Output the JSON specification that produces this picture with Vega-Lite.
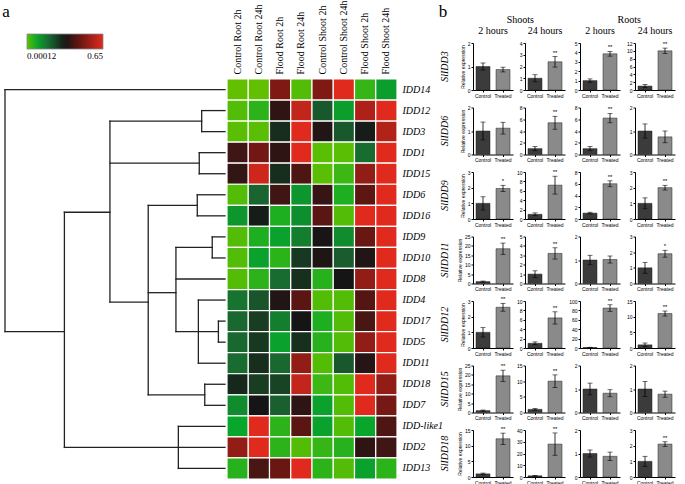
{
  "$schema": "https://vega.github.io/schema/vega-lite/v6.json",
  "padding": 0,
  "background": "white",
  "config": {"view": {"stroke": null}, "font": "Liberation Sans"},
  "datasets": {
    "tree": [
      {"h1":1,"h2":0,"r1":0.5,"r2":0.5},
      {"h1":1,"h2":1,"r1":0.5,"r2":12},
      {"h1":1,"h2":0.73,"r1":12,"r2":12},
      {"h1":0.73,"h2":0.73,"r1":6.33,"r2":17.5},
      {"h1":0.73,"h2":0.523,"r1":6.33,"r2":6.33},
      {"h1":0.523,"h2":0.523,"r1":2,"r2":10.6},
      {"h1":0.523,"h2":0.106,"r1":2,"r2":2},
      {"h1":0.106,"h2":0.106,"r1":1.5,"r2":2.5},
      {"h1":0.106,"h2":0,"r1":1.5,"r2":1.5},
      {"h1":0.106,"h2":0,"r1":2.5,"r2":2.5},
      {"h1":0.523,"h2":0.117,"r1":4,"r2":4},
      {"h1":0.117,"h2":0.117,"r1":3.5,"r2":4.5},
      {"h1":0.117,"h2":0,"r1":3.5,"r2":3.5},
      {"h1":0.117,"h2":0,"r1":4.5,"r2":4.5},
      {"h1":0.523,"h2":0.349,"r1":10.6,"r2":10.6},
      {"h1":0.349,"h2":0.349,"r1":6,"r2":15},
      {"h1":0.349,"h2":0.126,"r1":6,"r2":6},
      {"h1":0.126,"h2":0.126,"r1":5.5,"r2":6.5},
      {"h1":0.126,"h2":0,"r1":5.5,"r2":5.5},
      {"h1":0.126,"h2":0,"r1":6.5,"r2":6.5},
      {"h1":0.349,"h2":0.223,"r1":10.15,"r2":10.15},
      {"h1":0.223,"h2":0.223,"r1":8,"r2":12},
      {"h1":0.223,"h2":0.058,"r1":8,"r2":8},
      {"h1":0.058,"h2":0.058,"r1":7.5,"r2":8.5},
      {"h1":0.058,"h2":0,"r1":7.5,"r2":7.5},
      {"h1":0.058,"h2":0,"r1":8.5,"r2":8.5},
      {"h1":0.223,"h2":0,"r1":9.5,"r2":9.5},
      {"h1":0.223,"h2":0.03,"r1":12,"r2":12},
      {"h1":0.03,"h2":0.03,"r1":11.5,"r2":12.5},
      {"h1":0.03,"h2":0,"r1":11.5,"r2":11.5},
      {"h1":0.03,"h2":0,"r1":12.5,"r2":12.5},
      {"h1":0.121,"h2":0.121,"r1":10.5,"r2":13.5},
      {"h1":0.121,"h2":0,"r1":10.5,"r2":10.5},
      {"h1":0.121,"h2":0,"r1":13.5,"r2":13.5},
      {"h1":0.349,"h2":0.092,"r1":15,"r2":15},
      {"h1":0.092,"h2":0.092,"r1":14.5,"r2":15.5},
      {"h1":0.092,"h2":0,"r1":14.5,"r2":14.5},
      {"h1":0.092,"h2":0,"r1":15.5,"r2":15.5},
      {"h1":0.73,"h2":0,"r1":17.5,"r2":17.5},
      {"h1":0.212,"h2":0.212,"r1":16.5,"r2":18.5},
      {"h1":0.212,"h2":0,"r1":16.5,"r2":16.5},
      {"h1":0.212,"h2":0,"r1":18.5,"r2":18.5}
    ],
    "heat": [
      {"gene":"IDD14","cond":"Control Root 2h","v":0},{"gene":"IDD14","cond":"Control Root 24h","v":0},{"gene":"IDD14","cond":"Flood Root 2h","v":0.488},{"gene":"IDD14","cond":"Flood Root 24h","v":0.013},{"gene":"IDD14","cond":"Control Shoot 2h","v":0.488},{"gene":"IDD14","cond":"Control Shoot 24h","v":0.65},{"gene":"IDD14","cond":"Flood Shoot 2h","v":0.039},{"gene":"IDD14","cond":"Flood Shoot 24h","v":0.098},
      {"gene":"IDD12","cond":"Control Root 2h","v":0.013},{"gene":"IDD12","cond":"Control Root 24h","v":0.046},{"gene":"IDD12","cond":"Flood Root 2h","v":0.364},{"gene":"IDD12","cond":"Flood Root 24h","v":0.598},{"gene":"IDD12","cond":"Control Shoot 2h","v":0.215},{"gene":"IDD12","cond":"Control Shoot 24h","v":0.098},{"gene":"IDD12","cond":"Flood Shoot 2h","v":0.566},{"gene":"IDD12","cond":"Flood Shoot 24h","v":0.65},
      {"gene":"IDD3","cond":"Control Root 2h","v":0.007},{"gene":"IDD3","cond":"Control Root 24h","v":0.007},{"gene":"IDD3","cond":"Flood Root 2h","v":0.286},{"gene":"IDD3","cond":"Flood Root 24h","v":0.65},{"gene":"IDD3","cond":"Control Shoot 2h","v":0.345},{"gene":"IDD3","cond":"Control Shoot 24h","v":0.215},{"gene":"IDD3","cond":"Flood Shoot 2h","v":0.312},{"gene":"IDD3","cond":"Flood Shoot 24h","v":0.572},
      {"gene":"IDD1","cond":"Control Root 2h","v":0.39},{"gene":"IDD1","cond":"Control Root 24h","v":0.468},{"gene":"IDD1","cond":"Flood Root 2h","v":0.364},{"gene":"IDD1","cond":"Flood Root 24h","v":0.65},{"gene":"IDD1","cond":"Control Shoot 2h","v":0.007},{"gene":"IDD1","cond":"Control Shoot 24h","v":0.007},{"gene":"IDD1","cond":"Flood Shoot 2h","v":0.182},{"gene":"IDD1","cond":"Flood Shoot 24h","v":0.65},
      {"gene":"IDD15","cond":"Control Root 2h","v":0.371},{"gene":"IDD15","cond":"Control Root 24h","v":0.618},{"gene":"IDD15","cond":"Flood Root 2h","v":0.286},{"gene":"IDD15","cond":"Flood Root 24h","v":0.41},{"gene":"IDD15","cond":"Control Shoot 2h","v":0.007},{"gene":"IDD15","cond":"Control Shoot 24h","v":0.033},{"gene":"IDD15","cond":"Flood Shoot 2h","v":0.52},{"gene":"IDD15","cond":"Flood Shoot 24h","v":0.65},
      {"gene":"IDD6","cond":"Control Root 2h","v":0.013},{"gene":"IDD6","cond":"Control Root 24h","v":0.195},{"gene":"IDD6","cond":"Flood Root 2h","v":0.39},{"gene":"IDD6","cond":"Flood Root 24h","v":0.111},{"gene":"IDD6","cond":"Control Shoot 2h","v":0.377},{"gene":"IDD6","cond":"Control Shoot 24h","v":0.059},{"gene":"IDD6","cond":"Flood Shoot 2h","v":0.436},{"gene":"IDD6","cond":"Flood Shoot 24h","v":0.65},
      {"gene":"IDD16","cond":"Control Root 2h","v":0.111},{"gene":"IDD16","cond":"Control Root 24h","v":0.312},{"gene":"IDD16","cond":"Flood Root 2h","v":0.059},{"gene":"IDD16","cond":"Flood Root 24h","v":0.124},{"gene":"IDD16","cond":"Control Shoot 2h","v":0.429},{"gene":"IDD16","cond":"Control Shoot 24h","v":0.013},{"gene":"IDD16","cond":"Flood Shoot 2h","v":0.65},{"gene":"IDD16","cond":"Flood Shoot 24h","v":0.65},
      {"gene":"IDD9","cond":"Control Root 2h","v":0.013},{"gene":"IDD9","cond":"Control Root 24h","v":0.059},{"gene":"IDD9","cond":"Flood Root 2h","v":0.091},{"gene":"IDD9","cond":"Flood Root 24h","v":0.15},{"gene":"IDD9","cond":"Control Shoot 2h","v":0.332},{"gene":"IDD9","cond":"Control Shoot 24h","v":0.13},{"gene":"IDD9","cond":"Flood Shoot 2h","v":0.455},{"gene":"IDD9","cond":"Flood Shoot 24h","v":0.65},
      {"gene":"IDD10","cond":"Control Root 2h","v":0.013},{"gene":"IDD10","cond":"Control Root 24h","v":0.091},{"gene":"IDD10","cond":"Flood Root 2h","v":0.046},{"gene":"IDD10","cond":"Flood Root 24h","v":0.267},{"gene":"IDD10","cond":"Control Shoot 2h","v":0.338},{"gene":"IDD10","cond":"Control Shoot 24h","v":0.208},{"gene":"IDD10","cond":"Flood Shoot 2h","v":0.345},{"gene":"IDD10","cond":"Flood Shoot 24h","v":0.65},
      {"gene":"IDD8","cond":"Control Root 2h","v":0.013},{"gene":"IDD8","cond":"Control Root 24h","v":0.046},{"gene":"IDD8","cond":"Flood Root 2h","v":0.182},{"gene":"IDD8","cond":"Flood Root 24h","v":0.28},{"gene":"IDD8","cond":"Control Shoot 2h","v":0.052},{"gene":"IDD8","cond":"Control Shoot 24h","v":0.325},{"gene":"IDD8","cond":"Flood Shoot 2h","v":0.52},{"gene":"IDD8","cond":"Flood Shoot 24h","v":0.65},
      {"gene":"IDD4","cond":"Control Root 2h","v":0.169},{"gene":"IDD4","cond":"Control Root 24h","v":0.221},{"gene":"IDD4","cond":"Flood Root 2h","v":0.345},{"gene":"IDD4","cond":"Flood Root 24h","v":0.429},{"gene":"IDD4","cond":"Control Shoot 2h","v":0.013},{"gene":"IDD4","cond":"Control Shoot 24h","v":0.013},{"gene":"IDD4","cond":"Flood Shoot 2h","v":0.423},{"gene":"IDD4","cond":"Flood Shoot 24h","v":0.65},
      {"gene":"IDD17","cond":"Control Root 2h","v":0.189},{"gene":"IDD17","cond":"Control Root 24h","v":0.26},{"gene":"IDD17","cond":"Flood Root 2h","v":0.15},{"gene":"IDD17","cond":"Flood Root 24h","v":0.325},{"gene":"IDD17","cond":"Control Shoot 2h","v":0.059},{"gene":"IDD17","cond":"Control Shoot 24h","v":0.013},{"gene":"IDD17","cond":"Flood Shoot 2h","v":0.403},{"gene":"IDD17","cond":"Flood Shoot 24h","v":0.65},
      {"gene":"IDD5","cond":"Control Root 2h","v":0.189},{"gene":"IDD5","cond":"Control Root 24h","v":0.267},{"gene":"IDD5","cond":"Flood Root 2h","v":0.091},{"gene":"IDD5","cond":"Flood Root 24h","v":0.28},{"gene":"IDD5","cond":"Control Shoot 2h","v":0.052},{"gene":"IDD5","cond":"Control Shoot 24h","v":0.013},{"gene":"IDD5","cond":"Flood Shoot 2h","v":0.52},{"gene":"IDD5","cond":"Flood Shoot 24h","v":0.65},
      {"gene":"IDD11","cond":"Control Root 2h","v":0.182},{"gene":"IDD11","cond":"Control Root 24h","v":0.286},{"gene":"IDD11","cond":"Flood Root 2h","v":0.189},{"gene":"IDD11","cond":"Flood Root 24h","v":0.52},{"gene":"IDD11","cond":"Control Shoot 2h","v":0.013},{"gene":"IDD11","cond":"Control Shoot 24h","v":0.215},{"gene":"IDD11","cond":"Flood Shoot 2h","v":0.351},{"gene":"IDD11","cond":"Flood Shoot 24h","v":0.65},
      {"gene":"IDD18","cond":"Control Root 2h","v":0.293},{"gene":"IDD18","cond":"Control Root 24h","v":0.26},{"gene":"IDD18","cond":"Flood Root 2h","v":0.247},{"gene":"IDD18","cond":"Flood Root 24h","v":0.598},{"gene":"IDD18","cond":"Control Shoot 2h","v":0.033},{"gene":"IDD18","cond":"Control Shoot 24h","v":0.013},{"gene":"IDD18","cond":"Flood Shoot 2h","v":0.65},{"gene":"IDD18","cond":"Flood Shoot 24h","v":0.52},
      {"gene":"IDD7","cond":"Control Root 2h","v":0.13},{"gene":"IDD7","cond":"Control Root 24h","v":0.325},{"gene":"IDD7","cond":"Flood Root 2h","v":0.202},{"gene":"IDD7","cond":"Flood Root 24h","v":0.364},{"gene":"IDD7","cond":"Control Shoot 2h","v":0.091},{"gene":"IDD7","cond":"Control Shoot 24h","v":0.013},{"gene":"IDD7","cond":"Flood Shoot 2h","v":0.65},{"gene":"IDD7","cond":"Flood Shoot 24h","v":0.475},
      {"gene":"IDD-like1","cond":"Control Root 2h","v":0.085},{"gene":"IDD-like1","cond":"Control Root 24h","v":0.65},{"gene":"IDD-like1","cond":"Flood Root 2h","v":0.046},{"gene":"IDD-like1","cond":"Flood Root 24h","v":0.429},{"gene":"IDD-like1","cond":"Control Shoot 2h","v":0.091},{"gene":"IDD-like1","cond":"Control Shoot 24h","v":0.013},{"gene":"IDD-like1","cond":"Flood Shoot 2h","v":0.085},{"gene":"IDD-like1","cond":"Flood Shoot 24h","v":0.41},
      {"gene":"IDD2","cond":"Control Root 2h","v":0.52},{"gene":"IDD2","cond":"Control Root 24h","v":0.65},{"gene":"IDD2","cond":"Flood Root 2h","v":0.046},{"gene":"IDD2","cond":"Flood Root 24h","v":0.013},{"gene":"IDD2","cond":"Control Shoot 2h","v":0.039},{"gene":"IDD2","cond":"Control Shoot 24h","v":0.052},{"gene":"IDD2","cond":"Flood Shoot 2h","v":0.364},{"gene":"IDD2","cond":"Flood Shoot 24h","v":0.39},
      {"gene":"IDD13","cond":"Control Root 2h","v":0.052},{"gene":"IDD13","cond":"Control Root 24h","v":0.403},{"gene":"IDD13","cond":"Flood Root 2h","v":0.455},{"gene":"IDD13","cond":"Flood Root 24h","v":0.65},{"gene":"IDD13","cond":"Control Shoot 2h","v":0.046},{"gene":"IDD13","cond":"Control Shoot 24h","v":0.013},{"gene":"IDD13","cond":"Flood Shoot 2h","v":0.091},{"gene":"IDD13","cond":"Flood Shoot 24h","v":0.046}
    ],
    "bars": [
      {"gene":"SlIDD3","cond":"S2","grp":"Control","m":1,"lo":0.85,"hi":1.15,"sig":"","axmax":2},
      {"gene":"SlIDD3","cond":"S2","grp":"Treated","m":0.87,"lo":0.77,"hi":0.97,"sig":"","axmax":2},
      {"gene":"SlIDD3","cond":"S24","grp":"Control","m":1,"lo":0.7,"hi":1.3,"sig":"","axmax":4},
      {"gene":"SlIDD3","cond":"S24","grp":"Treated","m":2.4,"lo":1.95,"hi":2.85,"sig":"**","axmax":4},
      {"gene":"SlIDD3","cond":"R2","grp":"Control","m":1,"lo":0.82,"hi":1.18,"sig":"","axmax":5},
      {"gene":"SlIDD3","cond":"R2","grp":"Treated","m":3.85,"lo":3.6,"hi":4.1,"sig":"**","axmax":5},
      {"gene":"SlIDD3","cond":"R24","grp":"Control","m":1,"lo":0.6,"hi":1.4,"sig":"","axmax":12},
      {"gene":"SlIDD3","cond":"R24","grp":"Treated","m":10,"lo":9.3,"hi":10.7,"sig":"**","axmax":12},
      {"gene":"SlIDD6","cond":"S2","grp":"Control","m":1,"lo":0.62,"hi":1.38,"sig":"","axmax":2},
      {"gene":"SlIDD6","cond":"S2","grp":"Treated","m":1.12,"lo":0.87,"hi":1.37,"sig":"","axmax":2},
      {"gene":"SlIDD6","cond":"S24","grp":"Control","m":1,"lo":0.65,"hi":1.35,"sig":"","axmax":8},
      {"gene":"SlIDD6","cond":"S24","grp":"Treated","m":5.4,"lo":4.3,"hi":6.5,"sig":"**","axmax":8},
      {"gene":"SlIDD6","cond":"R2","grp":"Control","m":1,"lo":0.65,"hi":1.35,"sig":"","axmax":8},
      {"gene":"SlIDD6","cond":"R2","grp":"Treated","m":6.2,"lo":5.4,"hi":7,"sig":"**","axmax":8},
      {"gene":"SlIDD6","cond":"R24","grp":"Control","m":1,"lo":0.7,"hi":1.3,"sig":"","axmax":2},
      {"gene":"SlIDD6","cond":"R24","grp":"Treated","m":0.75,"lo":0.5,"hi":1,"sig":"","axmax":2},
      {"gene":"SlIDD9","cond":"S2","grp":"Control","m":1,"lo":0.58,"hi":1.42,"sig":"","axmax":3},
      {"gene":"SlIDD9","cond":"S2","grp":"Treated","m":1.95,"lo":1.75,"hi":2.15,"sig":"*","axmax":3},
      {"gene":"SlIDD9","cond":"S24","grp":"Control","m":1,"lo":0.7,"hi":1.3,"sig":"","axmax":10},
      {"gene":"SlIDD9","cond":"S24","grp":"Treated","m":7.2,"lo":5.3,"hi":9.1,"sig":"**","axmax":10},
      {"gene":"SlIDD9","cond":"R2","grp":"Control","m":1,"lo":0.85,"hi":1.15,"sig":"","axmax":8},
      {"gene":"SlIDD9","cond":"R2","grp":"Treated","m":6,"lo":5.5,"hi":6.5,"sig":"**","axmax":8},
      {"gene":"SlIDD9","cond":"R24","grp":"Control","m":1,"lo":0.65,"hi":1.35,"sig":"","axmax":3},
      {"gene":"SlIDD9","cond":"R24","grp":"Treated","m":2,"lo":1.85,"hi":2.15,"sig":"**","axmax":3},
      {"gene":"SlIDD11","cond":"S2","grp":"Control","m":1,"lo":0.7,"hi":1.3,"sig":"","axmax":25},
      {"gene":"SlIDD11","cond":"S2","grp":"Treated","m":18.5,"lo":15.5,"hi":21.5,"sig":"**","axmax":25},
      {"gene":"SlIDD11","cond":"S24","grp":"Control","m":1,"lo":0.65,"hi":1.35,"sig":"","axmax":5},
      {"gene":"SlIDD11","cond":"S24","grp":"Treated","m":3.2,"lo":2.6,"hi":3.8,"sig":"**","axmax":5},
      {"gene":"SlIDD11","cond":"R2","grp":"Control","m":1,"lo":0.8,"hi":1.2,"sig":"","axmax":2},
      {"gene":"SlIDD11","cond":"R2","grp":"Treated","m":1.02,"lo":0.87,"hi":1.17,"sig":"","axmax":2},
      {"gene":"SlIDD11","cond":"R24","grp":"Control","m":1,"lo":0.65,"hi":1.35,"sig":"","axmax":3},
      {"gene":"SlIDD11","cond":"R24","grp":"Treated","m":1.9,"lo":1.68,"hi":2.12,"sig":"*","axmax":3},
      {"gene":"SlIDD12","cond":"S2","grp":"Control","m":1,"lo":0.7,"hi":1.3,"sig":"","axmax":3},
      {"gene":"SlIDD12","cond":"S2","grp":"Treated","m":2.6,"lo":2.35,"hi":2.85,"sig":"**","axmax":3},
      {"gene":"SlIDD12","cond":"S24","grp":"Control","m":1,"lo":0.7,"hi":1.3,"sig":"","axmax":10},
      {"gene":"SlIDD12","cond":"S24","grp":"Treated","m":6.4,"lo":5.1,"hi":7.7,"sig":"**","axmax":10},
      {"gene":"SlIDD12","cond":"R2","grp":"Control","m":1,"lo":0.5,"hi":1.5,"sig":"","axmax":100},
      {"gene":"SlIDD12","cond":"R2","grp":"Treated","m":85,"lo":78,"hi":92,"sig":"**","axmax":100},
      {"gene":"SlIDD12","cond":"R24","grp":"Control","m":1,"lo":0.4,"hi":1.6,"sig":"","axmax":15},
      {"gene":"SlIDD12","cond":"R24","grp":"Treated","m":11,"lo":10.2,"hi":11.8,"sig":"**","axmax":15},
      {"gene":"SlIDD15","cond":"S2","grp":"Control","m":1,"lo":0.7,"hi":1.3,"sig":"","axmax":25},
      {"gene":"SlIDD15","cond":"S2","grp":"Treated","m":19.5,"lo":16.5,"hi":22.5,"sig":"**","axmax":25},
      {"gene":"SlIDD15","cond":"S24","grp":"Control","m":1,"lo":0.75,"hi":1.25,"sig":"","axmax":15},
      {"gene":"SlIDD15","cond":"S24","grp":"Treated","m":10,"lo":8,"hi":12,"sig":"**","axmax":15},
      {"gene":"SlIDD15","cond":"R2","grp":"Control","m":1,"lo":0.75,"hi":1.25,"sig":"","axmax":2},
      {"gene":"SlIDD15","cond":"R2","grp":"Treated","m":0.82,"lo":0.67,"hi":0.97,"sig":"","axmax":2},
      {"gene":"SlIDD15","cond":"R24","grp":"Control","m":1,"lo":0.68,"hi":1.32,"sig":"","axmax":2},
      {"gene":"SlIDD15","cond":"R24","grp":"Treated","m":0.78,"lo":0.65,"hi":0.91,"sig":"","axmax":2},
      {"gene":"SlIDD18","cond":"S2","grp":"Control","m":1,"lo":0.75,"hi":1.25,"sig":"","axmax":15},
      {"gene":"SlIDD18","cond":"S2","grp":"Treated","m":12.2,"lo":10.4,"hi":14,"sig":"**","axmax":15},
      {"gene":"SlIDD18","cond":"S24","grp":"Control","m":1,"lo":0.7,"hi":1.3,"sig":"","axmax":40},
      {"gene":"SlIDD18","cond":"S24","grp":"Treated","m":28,"lo":18.5,"hi":37.5,"sig":"**","axmax":40},
      {"gene":"SlIDD18","cond":"R2","grp":"Control","m":1,"lo":0.85,"hi":1.15,"sig":"","axmax":2},
      {"gene":"SlIDD18","cond":"R2","grp":"Treated","m":0.88,"lo":0.7,"hi":1.06,"sig":"","axmax":2},
      {"gene":"SlIDD18","cond":"R24","grp":"Control","m":1,"lo":0.68,"hi":1.32,"sig":"","axmax":3},
      {"gene":"SlIDD18","cond":"R24","grp":"Treated","m":2.1,"lo":1.95,"hi":2.25,"sig":"**","axmax":3}
    ]
  },
  "spacing": -5,
  "hconcat": [
    {
      "spacing": -20,
      "vconcat": [
        {
          "width": 12, "height": 16,
          "data": {"values": [{"label": "a"}]},
          "mark": {"type": "text", "font": "Liberation Serif", "fontSize": 17, "color": "#000"},
          "encoding": {"text": {"field": "label"}}
        },
        {
          "spacing": 2,
          "bounds": "flush",
          "hconcat": [
            {
              "width": 225, "height": 400,
              "data": {"name": "tree"},
              "mark": {"type": "rule", "color": "#222", "strokeWidth": 1.3, "strokeCap": "square"},
              "encoding": {
                "x": {"field": "h1", "type": "quantitative", "scale": {"domain": [0, 1.0227], "reverse": true, "nice": false, "zero": false}, "axis": null},
                "x2": {"field": "h2"},
                "y": {"field": "r1", "type": "quantitative", "scale": {"domain": [0, 19], "reverse": true, "nice": false, "zero": false}, "axis": null},
                "y2": {"field": "r2"}
              }
            },
            {
              "width": 170, "height": 400,
              "data": {"name": "heat"},
              "mark": {"type": "rect", "stroke": "white", "strokeWidth": 1.2},
              "encoding": {
                "x": {"field": "cond", "type": "nominal", "sort": null, "scale": {"paddingInner": 0, "paddingOuter": 0},
                      "axis": {"orient": "top", "title": null, "labelAngle": -90, "labelFont": "Liberation Serif", "labelFontSize": 10, "labelColor": "#000", "ticks": false, "domain": false, "labelPadding": 5}},
                "y": {"field": "gene", "type": "nominal", "sort": null,
                      "axis": {"orient": "right", "title": null, "labelFont": "Liberation Serif", "labelFontStyle": "italic", "labelFontSize": 10, "labelColor": "#000", "ticks": false, "domain": false, "labelPadding": 5}},
                "color": {"field": "v", "type": "quantitative",
                  "scale": {"domain": [0.00012, 0.078, 0.195, 0.325, 0.455, 0.65], "range": ["#62c000", "#08aa2c", "#1a6430", "#151515", "#6a1612", "#e02a1e"], "clamp": true, "interpolate": "rgb"},
                  "legend": {"orient": "none", "legendX": 27, "legendY": 30, "direction": "horizontal", "title": null, "gradientLength": 76, "gradientThickness": 15, "values": [0.00012, 0.65], "labelExpr": "datum.value < 0.01 ? '0.00012' : '0.65'", "labelFont": "Liberation Serif", "labelFontSize": 9, "labelColor": "#000", "labelAlign": "center", "gradientStrokeColor": "#888", "gradientStrokeWidth": 0.8, "labelOffset": 3}}
              }
            }
          ]
        }
      ]
    },
    {
      "spacing": -2,
      "vconcat": [
        {
          "width": 218, "height": 24,
          "data": {"values": [{"label": "b", "pos": -0.55, "tier": "t1", "fs": "big"}, {"label": "Shoots", "pos": 0.867, "tier": "t2", "fs": "small"}, {"label": "Roots", "pos": 2.867, "tier": "t2", "fs": "small"}]},
          "mark": {"type": "text", "font": "Liberation Serif", "color": "#000"},
          "encoding": {
            "x": {"field": "pos", "type": "quantitative", "scale": {"domain": [0, 4], "nice": false, "zero": false}, "axis": null},
            "y": {"field": "tier", "type": "nominal", "scale": {"type": "point", "padding": 1}, "axis": null},
            "text": {"field": "label"},
            "size": {"field": "fs", "type": "nominal", "scale": {"domain": ["big", "small"], "range": [17, 10]}, "legend": null}
          }
        },
        {
          "spacing": 3,
          "hconcat": [
            {
              "data": {"name": "bars"},
              "transform": [{"filter": "datum.cond == 'S2'"}],
              "facet": {
                "row": {"field": "gene", "type": "nominal", "sort": ["SlIDD3","SlIDD6","SlIDD9","SlIDD11","SlIDD12","SlIDD15","SlIDD18"],
                        "header": {"title": null, "labelAngle": -90, "labelOrient": "left", "labelFont": "Liberation Serif", "labelFontStyle": "italic", "labelFontSize": 10, "labelColor": "#000", "labelPadding": 2}},
                "column": {"field": "cond", "type": "nominal", "sort": ["S2"],
                        "header": {"title": null, "labelExpr": "datum.value == 'S2' || datum.value == 'R2' ? '2 hours' : '24 hours'", "labelFont": "Liberation Serif", "labelFontSize": 10, "labelColor": "#000", "labelPadding": 4}}
              },
              "spacing": {"row": 4.5, "column": 3},
              "resolve": {"scale": {"y": "independent"}, "axis": {"x": "independent", "y": "independent"}},
              "spec": {
                "width": 40, "height": 47,
                "encoding": {
                  "x": {"field": "grp", "type": "nominal", "sort": ["Control", "Treated"], "scale": {"paddingInner": 0.3, "paddingOuter": 0.15},
                        "axis": {"title": null, "labelAngle": 0, "labelFontSize": 5, "labelColor": "#000", "tickSize": 2, "labelPadding": 1, "domainColor": "#000", "tickColor": "#000"}}
                },
                "layer": [
                  {"mark": {"type": "bar", "stroke": "#222", "strokeWidth": 0.5},
                   "encoding": {
                     "y": {"field": "m", "type": "quantitative", "title": "Relative expression", "scale": {"nice": false},
                           "axis": {"grid": false, "tickCount": 4, "tickMinStep": 1, "labelFontSize": 5, "labelColor": "#000", "titleFontSize": 5, "titleFontWeight": "normal", "titleColor": "#000", "tickSize": 2, "labelPadding": 1, "titlePadding": 2, "domainColor": "#000", "tickColor": "#000"}},
                     "color": {"field": "grp", "type": "nominal", "scale": {"domain": ["Control", "Treated"], "range": ["#3b3b3b", "#8a8a8a"]}, "legend": null}}},
                  {"mark": {"type": "rule", "color": "#000", "strokeWidth": 0.8},
                   "encoding": {"y": {"field": "lo", "type": "quantitative", "title": "Relative expression"}, "y2": {"field": "hi"}}},
                  {"mark": {"type": "tick", "color": "#000", "thickness": 0.8, "size": 5},
                   "encoding": {"y": {"field": "lo", "type": "quantitative", "title": "Relative expression"}}},
                  {"mark": {"type": "tick", "color": "#000", "thickness": 0.8, "size": 5},
                   "encoding": {"y": {"field": "hi", "type": "quantitative", "title": "Relative expression"}}},
                  {"mark": {"type": "text", "fontSize": 6, "baseline": "bottom", "dy": -1, "color": "#000"},
                   "encoding": {"y": {"field": "hi", "type": "quantitative", "title": "Relative expression"}, "text": {"field": "sig"}}},
                  {"mark": {"type": "point", "opacity": 0},
                   "encoding": {"y": {"field": "axmax", "type": "quantitative", "title": "Relative expression"}}}
                ]
              }
            },
            {
              "data": {"name": "bars"},
              "transform": [{"filter": "datum.cond != 'S2'"}],
              "facet": {
                "row": {"field": "gene", "type": "nominal", "sort": ["SlIDD3","SlIDD6","SlIDD9","SlIDD11","SlIDD12","SlIDD15","SlIDD18"],
                        "header": {"title": null, "labels": false}},
                "column": {"field": "cond", "type": "nominal", "sort": ["S24", "R2", "R24"],
                        "header": {"title": null, "labelExpr": "datum.value == 'S2' || datum.value == 'R2' ? '2 hours' : '24 hours'", "labelFont": "Liberation Serif", "labelFontSize": 10, "labelColor": "#000", "labelPadding": 4}}
              },
              "spacing": {"row": 4.5, "column": 3},
              "resolve": {"scale": {"y": "independent"}, "axis": {"x": "independent", "y": "independent"}},
              "spec": {
                "width": 40, "height": 47,
                "encoding": {
                  "x": {"field": "grp", "type": "nominal", "sort": ["Control", "Treated"], "scale": {"paddingInner": 0.3, "paddingOuter": 0.15},
                        "axis": {"title": null, "labelAngle": 0, "labelFontSize": 5, "labelColor": "#000", "tickSize": 2, "labelPadding": 1, "domainColor": "#000", "tickColor": "#000"}}
                },
                "layer": [
                  {"mark": {"type": "bar", "stroke": "#222", "strokeWidth": 0.5},
                   "encoding": {
                     "y": {"field": "m", "type": "quantitative", "title": null, "scale": {"nice": false},
                           "axis": {"grid": false, "tickCount": 4, "tickMinStep": 1, "labelFontSize": 5, "labelColor": "#000", "tickSize": 2, "labelPadding": 1, "domainColor": "#000", "tickColor": "#000"}},
                     "color": {"field": "grp", "type": "nominal", "scale": {"domain": ["Control", "Treated"], "range": ["#3b3b3b", "#8a8a8a"]}, "legend": null}}},
                  {"mark": {"type": "rule", "color": "#000", "strokeWidth": 0.8},
                   "encoding": {"y": {"field": "lo", "type": "quantitative", "title": null}, "y2": {"field": "hi"}}},
                  {"mark": {"type": "tick", "color": "#000", "thickness": 0.8, "size": 5},
                   "encoding": {"y": {"field": "lo", "type": "quantitative", "title": null}}},
                  {"mark": {"type": "tick", "color": "#000", "thickness": 0.8, "size": 5},
                   "encoding": {"y": {"field": "hi", "type": "quantitative", "title": null}}},
                  {"mark": {"type": "text", "fontSize": 6, "baseline": "bottom", "dy": -1, "color": "#000"},
                   "encoding": {"y": {"field": "hi", "type": "quantitative", "title": null}, "text": {"field": "sig"}}},
                  {"mark": {"type": "point", "opacity": 0},
                   "encoding": {"y": {"field": "axmax", "type": "quantitative", "title": null}}}
                ]
              }
            }
          ]
        }
      ]
    }
  ]
}
